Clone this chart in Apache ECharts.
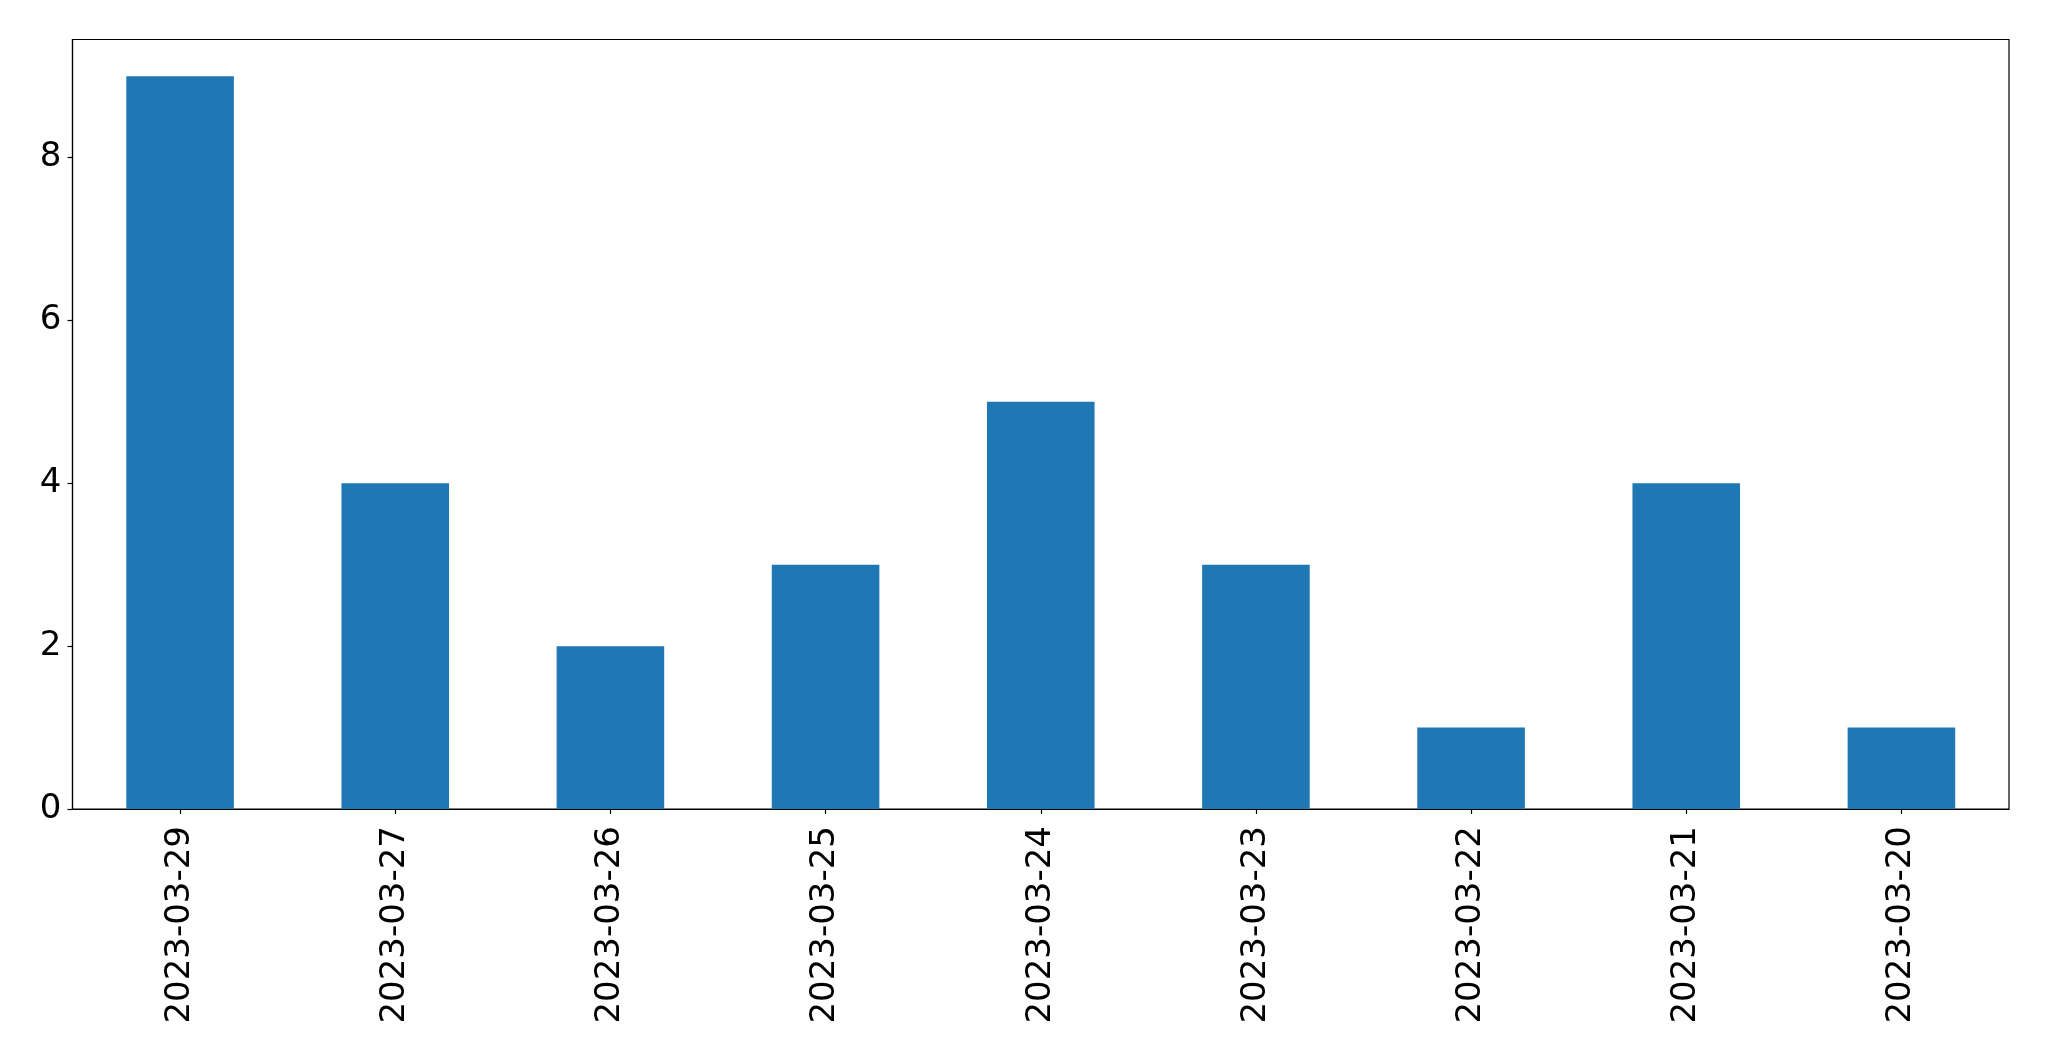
<!DOCTYPE html>
<html>
<head>
<meta charset="utf-8">
<script src="https://cdn.jsdelivr.net/npm/echarts@6/dist/echarts.min.js"></script>
<style>html,body{margin:0;padding:0;background:#fff;}#c{width:2049px;height:1061px;}</style>
</head>
<body>
<div id="c"></div>
<script>
const categories = ['2023-03-29','2023-03-27','2023-03-26','2023-03-25','2023-03-24','2023-03-23','2023-03-22','2023-03-21','2023-03-20'];
const values = [9, 4, 2, 3, 5, 3, 1, 4, 1];
const yTicks = [0, 2, 4, 6, 8];

const chart = echarts.init(document.getElementById('c'), null, {renderer: 'canvas'});
const font = 'DejaVu Sans';
chart.setOption({
  animation: false,
  backgroundColor: '#fff',
  grid: {left: 72.5, right: 40, top: 39.5, bottom: 252, show: true, borderColor: '#000', borderWidth: 1.2, backgroundColor: 'transparent'},
  xAxis: {
    type: 'category',
    data: categories,
    boundaryGap: true,
    axisLine: {show: true, lineStyle: {color: '#000', width: 1.2}},
    axisTick: {show: true, alignWithLabel: true, length: 5, lineStyle: {color: '#000', width: 1.2}},
    axisLabel: {rotate: 90, fontSize: 34, fontFamily: font, color: '#000', margin: 17, interval: 0},
    splitLine: {show: false}
  },
  yAxis: {
    type: 'value',
    min: 0,
    max: 9.45,
    interval: 2,
    axisLine: {show: true, lineStyle: {color: '#000', width: 1.2}},
    axisTick: {show: true, length: 5, customValues: yTicks, lineStyle: {color: '#000', width: 1.2}},
    axisLabel: {fontSize: 34, fontFamily: font, color: '#000', margin: 11, customValues: yTicks},
    splitLine: {show: false}
  },
  series: [{
    type: 'bar',
    data: values,
    barWidth: '50%',
    itemStyle: {color: '#1f77b4'}
  }]
});
</script>
</body>
</html>
